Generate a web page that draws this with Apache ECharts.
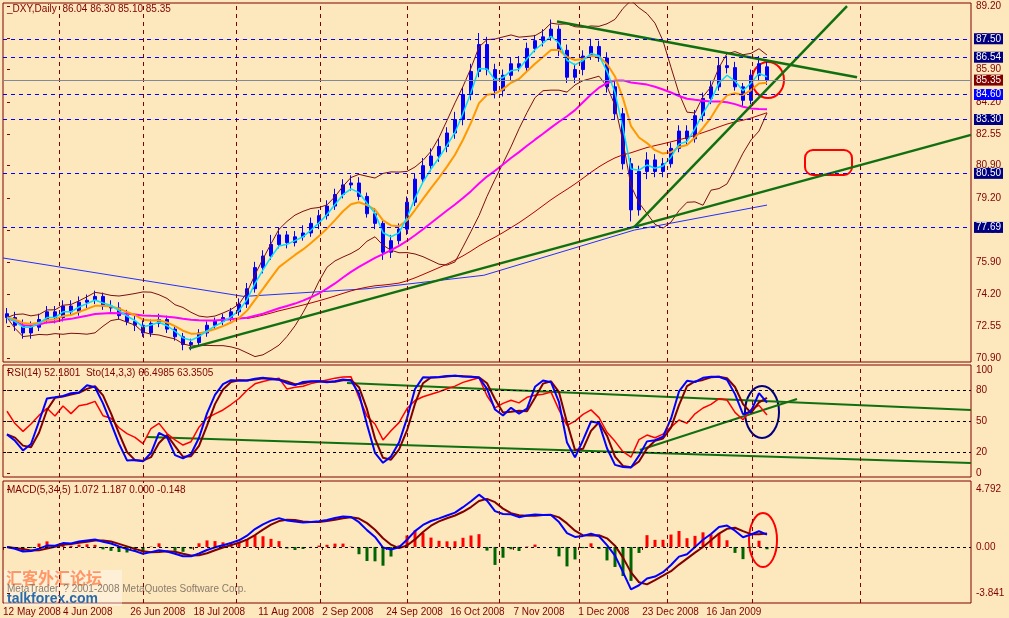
<!DOCTYPE html>
<html><head><meta charset="utf-8">
<script src="https://cdn.jsdelivr.net/npm/echarts@6/dist/echarts.min.js"></script>
<style>html,body{margin:0;padding:0;background:#fde7bd}#c{width:1009px;height:618px}</style>
</head><body><div id="c"></div>
<script>
const openP=[73.2,73.0,72.6,72.2,72.5,72.9,73.3,73.0,73.6,73.3,
73.8,73.9,74.1,73.6,73.5,73.1,72.8,72.6,72.2,72.7,
72.9,72.4,72.0,71.6,71.7,72.2,72.6,72.8,73.0,73.3,
73.7,74.5,75.6,76.2,76.8,77.3,76.9,77.2,77.4,77.9,
78.3,78.8,79.4,79.9,80.0,79.3,78.4,77.9,76.4,77.0,
77.6,79.0,80.2,80.9,81.4,81.9,82.6,83.3,84.6,85.8,
87.2,85.9,84.8,85.6,86.2,86.0,87.0,87.4,87.6,88.0,
86.9,85.5,85.9,86.6,87.1,86.5,85.0,83.6,81.0,78.6,
80.6,81.2,80.6,81.0,81.8,82.7,82.3,83.5,84.4,85.0,
86.1,86.0,85.0,84.3,85.6,86.04];
const closeP=[73.0,72.6,72.2,72.5,72.9,73.3,73.0,73.6,73.3,73.8,
73.9,74.1,73.6,73.5,73.1,72.8,72.6,72.2,72.7,72.9,
72.4,72.0,71.6,71.7,72.2,72.6,72.8,73.0,73.3,73.7,
74.5,75.6,76.2,76.8,77.3,76.9,77.2,77.4,77.9,78.3,
78.8,79.4,79.9,80.0,79.3,78.4,77.9,76.4,77.0,77.6,
79.0,80.2,80.9,81.4,81.9,82.6,83.3,84.6,85.8,87.2,
85.9,84.8,85.6,86.2,86.0,87.0,87.4,87.6,88.0,86.9,
85.5,85.9,86.6,87.1,86.5,85.0,83.6,81.0,78.6,80.6,
81.2,80.6,81.0,81.8,82.7,82.3,83.5,84.4,85.0,86.1,
86.0,85.0,84.3,85.6,86.2,85.35];
const highP=[73.5,73.3,72.9,72.8,73.2,73.6,73.6,73.9,73.9,74.1,
74.2,74.4,74.3,73.9,73.8,73.4,73.1,72.9,72.9,73.2,
73.1,72.6,72.2,71.9,72.4,72.8,73.0,73.2,73.5,74.0,
74.8,75.9,76.5,77.3,77.7,77.5,77.5,77.8,78.2,78.6,
79.1,79.7,80.2,80.4,80.3,79.5,78.7,78.1,77.3,77.9,
79.3,80.5,81.3,81.8,82.3,82.9,83.7,85.0,86.2,87.8,
87.6,86.2,85.9,86.5,86.6,87.3,87.7,88.0,88.5,88.2,
87.2,86.2,86.9,87.5,87.4,86.8,85.3,83.9,81.3,80.9,
81.6,81.5,81.3,82.1,83.0,83.0,83.8,84.7,85.3,86.5,
86.6,86.3,85.2,85.9,86.6,86.30];
const lowP=[72.7,72.3,71.9,71.9,72.3,72.7,72.7,72.8,73.1,73.1,
73.5,73.7,73.4,73.3,72.9,72.6,72.3,72.0,72.0,72.5,
72.2,71.8,71.3,71.3,71.5,72.0,72.4,72.6,72.8,73.1,
73.5,74.3,75.3,76.0,76.6,76.6,76.7,77.0,77.2,77.6,
78.1,78.6,79.2,79.6,79.1,78.2,77.6,76.0,76.1,76.8,
77.3,78.8,80.0,80.6,81.1,81.6,82.3,83.0,84.3,85.5,
85.6,84.4,84.5,85.3,85.8,85.8,86.8,87.1,87.4,86.6,
85.2,85.2,85.6,86.4,86.3,84.7,83.3,80.7,78.0,78.3,
80.2,80.3,80.3,80.8,81.6,82.0,82.1,83.2,84.1,84.8,
85.7,84.8,84.0,84.1,85.3,85.10];
// long-term (blue) moving average: [bar index, value]
const longMA=[[-0.5,76.1],[29.6,74.1],[45,74.5],[59.6,75.2],[78.4,77.55],[95,78.85]];
const dateLabels=['12 May 2008','4 Jun 2008','26 Jun 2008','18 Jul 2008','11 Aug 2008','2 Sep 2008','24 Sep 2008','16 Oct 2008','7 Nov 2008','1 Dec 2008','23 Dec 2008','16 Jan 2009'];
const datePos=[-0.5,7.0,15.4,23.3,31.4,39.4,47.4,55.4,63.3,71.4,79.4,87.4];
const vGrid=[6.5,17,28.6,39.1,50,61.5,71.5,82.5,93.1,106.6];
const priceTicks=[70.90,72.55,74.20,75.90,77.55,79.20,80.90,82.55,84.20,85.90,87.55,89.20];
const levels=[[87.50,'#000080'],[86.54,'#000080'],[84.60,'#0000ff'],[83.30,'#000080'],[80.50,'#000080'],[77.69,'#000080']];
const lastPrice=85.35;
const trendPrice=[[[22.75,71.4],[120.5,82.5]],[[78.4,77.7],[105,89.2]],[[68.75,88.4],[106.25,85.5]]];
const trendRSI=[[[17.5,35],[120.5,9.7]],[[42.5,87.4],[120.5,61.2]],[[79.1,22.3],[98.75,71.8]]];
const NCAT=121;

function sma(a,n){return a.map((v,i)=>{const s=a.slice(Math.max(0,i-n+1),i+1);return s.reduce((x,y)=>x+y,0)/s.length;});}
function ema(a,n){const k=2/(n+1);let r=[];a.forEach((v,i)=>r.push(i?r[i-1]+k*(v-r[i-1]):v));return r;}
function sd(a,n){return a.map((v,i)=>{const s=a.slice(Math.max(0,i-n+1),i+1);const m=s.reduce((x,y)=>x+y,0)/s.length;return Math.sqrt(s.reduce((x,y)=>x+(y-m)*(y-m),0)/s.length);});}
const idx=a=>a.map((v,i)=>[i,v]);
const ma5=ema(closeP,3), ma13=ema(closeP,7), ma50=sma(closeP,25), ma100=sma(closeP,50);
const bm=sma(closeP,10), bs=sd(closeP,10);
const bu=bm.map((m,i)=>m+1.8*bs[i]), bl=bm.map((m,i)=>m-1.8*bs[i]);
let rsi=[],ag=0.2,al=0.15;const RN=7;
closeP.forEach((c,i)=>{if(!i){rsi.push(60);return;}const d=c-closeP[i-1];const g=Math.max(d,0),l=Math.max(-d,0);
 ag=(ag*(RN-1)+g)/RN;al=(al*(RN-1)+l)/RN;
 rsi.push(al===0?100:100-100/(1+ag/al));});
const kRaw=closeP.map((c,i)=>{const h=Math.max(...highP.slice(Math.max(0,i-6),i+1)),l=Math.min(...lowP.slice(Math.max(0,i-6),i+1));return (c-l)/(h-l)*100;});
const stK=sma(kRaw,2), stD=sma(stK,2);
const e1=ema(closeP,3),e2=ema(closeP,17);const macd=e1.map((v,i)=>v-e2[i]);const sig=sma(macd,3);
const hist=macd.map((v,i)=>2*(v-sig[i]));

const DR='#800000';
const vline={symbol:'none',silent:true,label:{show:false},lineStyle:{color:DR,type:[4,4],width:1},data:vGrid.map(v=>({xAxis:v}))};
const hl=(vals)=>({symbol:'none',silent:true,label:{show:false},lineStyle:{color:'#000',type:[3,3],width:1},data:vals.map(v=>({yAxis:v}))});
const cats=Array.from({length:NCAT},(_,i)=>String(i));
const fnt='Liberation Sans';

const option={
 backgroundColor:'#fde7bd',animation:false,
 textStyle:{fontFamily:fnt},
 grid:[{left:3,top:3,width:968,height:359,show:true,borderColor:DR,borderWidth:1},
       {left:3,top:365,width:968,height:112,show:true,borderColor:DR,borderWidth:1},
       {left:3,top:481,width:968,height:122,show:true,borderColor:DR,borderWidth:1}],
 xAxis:[
  {type:'category',gridIndex:0,data:cats,show:false,position:'top'},
  {type:'value',gridIndex:0,min:-0.5,max:120.5,show:false,position:'bottom'},
  {type:'value',gridIndex:1,min:-0.5,max:120.5,show:false},
  {type:'category',gridIndex:2,data:cats,show:false,position:'top'},
  {type:'value',gridIndex:2,position:'bottom',min:-0.5,max:120.5,splitLine:{show:false},axisLine:{show:false},
   axisTick:{show:true,customValues:datePos,lineStyle:{color:DR},length:3,inside:false},
   axisLabel:{customValues:datePos,showMinLabel:true,hideOverlap:false,interval:0,color:DR,fontSize:10,fontFamily:fnt,align:'left',margin:4,formatter:v=>{const k=datePos.findIndex(p=>Math.abs(p-v)<0.01);return k>=0?dateLabels[k]:'';}}}
 ],
 yAxis:[
  {type:'value',gridIndex:0,position:'right',min:70.69,max:89.36,splitLine:{show:false},axisLine:{show:false},
   axisTick:{show:true,customValues:priceTicks,lineStyle:{color:DR},length:3},
   axisLabel:{customValues:priceTicks,color:DR,fontSize:10,fontFamily:fnt,margin:5,formatter:v=>v.toFixed(2)}},
  {type:'value',gridIndex:0,position:'right',min:70.69,max:89.36,show:false},
  {type:'value',gridIndex:1,position:'right',min:-3.9,max:104.9,splitLine:{show:false},axisLine:{show:false},
   axisTick:{show:true,customValues:[0,20,50,80,100],lineStyle:{color:DR},length:3},
   axisLabel:{customValues:[0,20,50,80,100],color:DR,fontSize:10,fontFamily:fnt,margin:5}},
  {type:'value',gridIndex:2,position:'right',min:-4.63,max:5.45,splitLine:{show:false},axisLine:{show:false},
   axisTick:{show:true,customValues:[-3.841,0,4.792],lineStyle:{color:DR},length:3},
   axisLabel:{customValues:[-3.841,0,4.792],color:DR,fontSize:10,fontFamily:fnt,margin:5,formatter:v=>Math.abs(v)<1e-6?'0.00':String(v)}},
  {type:'value',gridIndex:2,position:'right',min:-4.63,max:5.45,show:false}
 ],
 series:[
  {type:'line',xAxisIndex:1,yAxisIndex:1,data:[],markLine:vline},
  {type:'line',xAxisIndex:1,yAxisIndex:1,data:[],markLine:{symbol:'none',silent:true,
    data:levels.map(l=>({yAxis:l[0],lineStyle:{color:'#0000ff',type:[4,4],width:1},label:{show:true,position:'end',distance:3,formatter:l[0].toFixed(2),color:'#fff',backgroundColor:l[1],padding:[1,2,0,2],fontSize:10,fontFamily:fnt}}))
    .concat([{yAxis:lastPrice,lineStyle:{color:'#7f8a96',type:'solid',width:1},label:{show:true,position:'end',distance:3,formatter:lastPrice.toFixed(2),color:'#fff',backgroundColor:DR,padding:[1,2,0,2],fontSize:10,fontFamily:fnt}}])}},
  {type:'line',xAxisIndex:1,yAxisIndex:1,data:longMA,symbol:'none',lineStyle:{color:'#2030ff',width:1}},
  {type:'line',xAxisIndex:1,yAxisIndex:1,data:idx(ma100).slice(30),symbol:'none',lineStyle:{color:'#b00000',width:1}},
  {type:'line',xAxisIndex:1,yAxisIndex:1,data:idx(bu),symbol:'none',lineStyle:{color:'#7a1010',width:1}},
  {type:'line',xAxisIndex:1,yAxisIndex:1,data:idx(bl),symbol:'none',lineStyle:{color:'#7a1010',width:1}},
  {type:'line',xAxisIndex:1,yAxisIndex:1,data:idx(ma50),symbol:'none',lineStyle:{color:'#ff00ff',width:2}},
  {type:'line',xAxisIndex:1,yAxisIndex:1,data:idx(ma13),symbol:'none',lineStyle:{color:'#ff9900',width:2}},
  {type:'line',xAxisIndex:1,yAxisIndex:1,data:idx(ma5),symbol:'none',lineStyle:{color:'#00e0ff',width:1.5}},
  {type:'candlestick',xAxisIndex:0,yAxisIndex:0,barMaxWidth:3,
   data:closeP.map((c,i)=>[openP[i],c,lowP[i],highP[i]]),
   itemStyle:{color:'#0000ff',color0:'#0000ff',borderColor:'#0000ff',borderColor0:'#0000ff',borderWidth:1}},
  ...trendPrice.map(t=>({type:'line',xAxisIndex:1,yAxisIndex:1,data:t,symbol:'none',lineStyle:{color:'#107010',width:2.5}})),
  {type:'line',xAxisIndex:2,yAxisIndex:2,data:[],markLine:vline},
  {type:'line',xAxisIndex:2,yAxisIndex:2,data:[],markLine:hl([20,50,80])},
  ...trendRSI.map(t=>({type:'line',xAxisIndex:2,yAxisIndex:2,data:t,symbol:'none',lineStyle:{color:'#107010',width:2}})),
  {type:'line',xAxisIndex:2,yAxisIndex:2,data:idx(rsi),symbol:'none',lineStyle:{color:'#ff0000',width:1.5}},
  {type:'line',xAxisIndex:2,yAxisIndex:2,data:idx(stD),symbol:'none',lineStyle:{color:'#800000',width:2}},
  {type:'line',xAxisIndex:2,yAxisIndex:2,data:idx(stK),symbol:'none',lineStyle:{color:'#0000ff',width:2}},
  {type:'line',xAxisIndex:4,yAxisIndex:4,data:[],markLine:vline},
  {type:'line',xAxisIndex:4,yAxisIndex:4,data:[],markLine:hl([0])},
  {type:'bar',xAxisIndex:3,yAxisIndex:3,barWidth:3,data:hist.map(v=>({value:v,itemStyle:{color:v>=0?'#ff0000':'#006400'}}))},
  {type:'line',xAxisIndex:4,yAxisIndex:4,data:idx(sig),symbol:'none',lineStyle:{color:'#800000',width:2}},
  {type:'line',xAxisIndex:4,yAxisIndex:4,data:idx(macd),symbol:'none',lineStyle:{color:'#0000ff',width:2}}
 ],
 graphic:[
  {type:'text',left:7,top:4,style:{text:'_DXY,Daily  86.04 86.30 85.10 85.35',fill:DR,font:'10px "Liberation Sans"'}},
  {type:'text',left:7,top:368,style:{text:'RSI(14) 52.1801  Sto(14,3,3) 66.4985 63.3505',fill:DR,font:'10px "Liberation Sans"'}},
  {type:'text',left:7,top:485,style:{text:'MACD(5,34,5) 1.072 1.187 0.000 -0.148',fill:DR,font:'10px "Liberation Sans"'}},
  {type:'rect',shape:{x:4,y:570,width:118,height:36},style:{fill:'rgba(255,255,255,0.4)'}},
  {type:'text',left:6,top:570,style:{text:'汇客外汇论坛',fill:'rgba(255,120,60,0.75)',font:'bold 16px "Noto Sans CJK SC"'}},
  {type:'text',left:7,top:584,style:{text:'MetaTrader, ? 2001-2008 MetaQuotes Software Corp.',fill:'#8a7a6a',font:'10px "Liberation Sans"'}},
  {type:'text',left:7,top:592,style:{text:'talkforex.com',fill:'#2a6aa8',font:'bold 14px "Liberation Sans"'}},
  {type:'ellipse',shape:{cx:768,cy:80,rx:16,ry:18},style:{fill:'none',stroke:'#ff0000',lineWidth:2}},
  {type:'rect',shape:{x:805,y:150,width:47,height:25,r:8},style:{fill:'none',stroke:'#ff0000',lineWidth:2}},
  {type:'ellipse',shape:{cx:762,cy:412,rx:17,ry:26},style:{fill:'none',stroke:'#000080',lineWidth:2}},
  {type:'ellipse',shape:{cx:763,cy:540,rx:14,ry:27},style:{fill:'none',stroke:'#ff0000',lineWidth:2}}
 ]
};
echarts.init(document.getElementById('c')).setOption(option);
</script></body></html>
